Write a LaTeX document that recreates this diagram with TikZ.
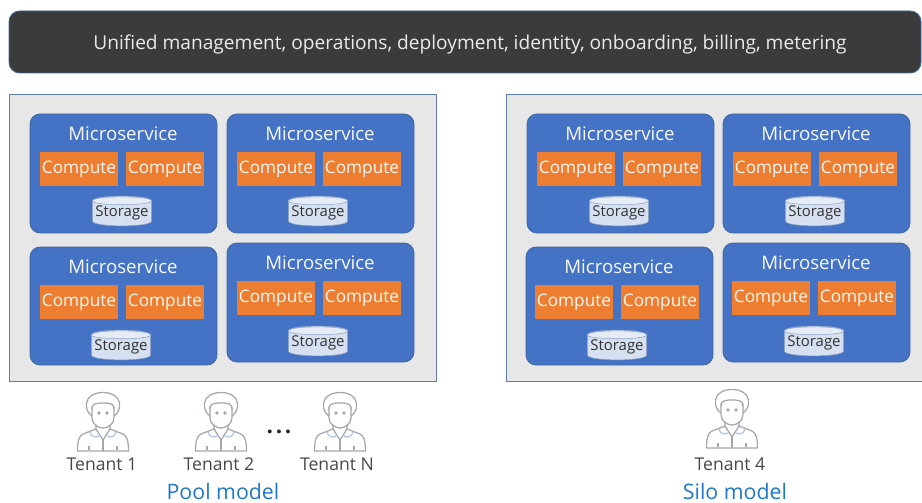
\documentclass[tikz,border=0pt]{standalone}
\usepackage{fontspec}
\setmainfont{Open Sans}
\usetikzlibrary{shapes.geometric}
\definecolor{msblue}{HTML}{4472C4}
\definecolor{msedge}{HTML}{41689F}
\definecolor{comporange}{HTML}{ED7D31}
\definecolor{panelgrey}{HTML}{E7E7E7}
\definecolor{bardark}{HTML}{3B3B3B}
\definecolor{stor}{HTML}{D6E0F0}
\definecolor{personline}{HTML}{A4A8AD}
\definecolor{collar}{HTML}{B4C7F0}
\definecolor{modelblue}{HTML}{1F78C8}
\tikzset{
 x=0.75pt,y=-0.75pt,
 bar/.style={draw=msedge,line width=0.7pt,fill=bardark,rounded corners=8pt},
 panel/.style={draw=msedge!85,line width=0.6pt,fill=panelgrey},
 msbox/.style={draw=msedge,line width=0.6pt,fill=msblue,rounded corners=7.5pt},
 mstext/.style={text=white!95!msblue,font=\fontsize{14}{16}\selectfont,inner sep=0pt},
 comptext/.style={fill=comporange,text=white!95!comporange,font=\fontsize{12.9}{15}\selectfont,minimum width=58.5pt,minimum height=25.5pt,inner sep=0pt},
 stortext/.style={font=\fontsize{11.2}{13}\selectfont,text=black!80,inner sep=0pt},
 tenanttext/.style={font=\fontsize{13.2}{15}\selectfont,text=black!72,inner sep=0pt},
 modeltext/.style={font=\fontsize{16}{18}\selectfont,text=modelblue,inner sep=0pt},
 person/.style={draw=personline,line width=0.95pt,fill=none,line cap=round,line join=round},
}
% #1 name, #2 x, #3 y top, #4 w, #5 h, #6 compute-left-offset, #7 compute-top, #8 storage cx, #9 storage top
\newcommand{\msv}[9]{%
 \path[msbox] (#2,#3) rectangle ++(#4,#5);
 \node[mstext] (#1t) at ({#2+#4/2-0.5},{#3+19.5}) {Microservice};
 \node[comptext] (#1a) at ({#2+#6+39},{#7+17}) {\raisebox{-0.6pt}{Compute}};
 \node[comptext] (#1b) at ({#2+#6+125},{#7+17}) {\raisebox{-0.6pt}{Compute}};
 \begin{scope}[shift={(#8,#9)}]
  \path[draw=msedge!60,line width=0.4pt,fill=stor] (-29.5,4) -- (-29.5,24) .. controls (-29.5,30.5) and (29.5,30.5) .. (29.5,24) -- (29.5,4) .. controls (29.5,-2.5) and (-29.5,-2.5) .. (-29.5,4) -- cycle;
  \path[draw=msedge!60,line width=0.4pt,fill=stor!60] (-29.5,4) .. controls (-29.5,9) and (29.5,9) .. (29.5,4) .. controls (29.5,-1.5) and (-29.5,-1.5) .. (-29.5,4) -- cycle;
 \end{scope}
 \node[stortext] (#1s) at ({#8},{#9+16}) {Storage};
}
% person icon centred on x=#1, top y=#2
\newcommand{\tenant}[2]{%
 \begin{scope}[shift={(#1,#2)}]
  \draw[person] (-11,25) .. controls (-16,22) and (-17,16) .. (-16.5,12) .. controls (-15,-2) and (15,-2) .. (16.5,12) .. controls (17,16) and (16,22) .. (11,25);
  \draw[person] (-11,18) .. controls (-11,13) and (-8,12) .. (0,12) .. controls (8,12) and (11,13) .. (11,18);
  \draw[person] (-11,16) -- (-11,27) .. controls (-11,33) and (-5,37) .. (0,37) .. controls (5,37) and (11,33) .. (11,27) -- (11,16);
  \fill[personline] (-4,22) circle (1.9) (4,22) circle (1.9);
  \draw[person] (-7,34) -- (-7,38) -- (-20,43) .. controls (-24,45) and (-25.5,50) .. (-25.5,60) -- (25.5,60) .. controls (25.5,50) and (24,45) .. (20,43) -- (7,38) -- (7,34);
  \draw[person] (-7,38) -- (0,49) -- (7,38);
  \draw[person] (0,49) -- (0,60);
  \draw[collar,line width=1pt,line cap=round] (-13,41) .. controls (-12,46) and (-7,47) .. (-4,45);
  \draw[collar,line width=1pt,line cap=round] (13,41) .. controls (12,46) and (7,47) .. (4,45);
  \draw[personline,line width=1pt] (-14,55) -- (-14,59) (14,55) -- (14,59);
 \end{scope}
}
\begin{document}
\begin{tikzpicture}
\useasboundingbox (0,0) rectangle (922,503);
\node[bar,minimum width=684pt,minimum height=46.5pt,inner sep=0pt] (top) at (465,42) {};
\node[text=white!92!black,font=\fontsize{14.35}{17}\selectfont,inner sep=0pt] (toptext) at (470,44) {Unified management, operations, deployment, identity, onboarding, billing, metering};
\path[panel] (9,94) rectangle (436,381);
\path[panel] (506,94) rectangle (923,381);
\msv{a}{30}{114}{187}{119}{10}{152}{122}{197}
\msv{b}{227}{114}{187}{119}{10}{152}{318}{197}
\msv{c}{30}{247}{187}{118}{10}{285}{121}{331}
\msv{d}{227}{243}{187}{119}{10}{281}{318}{327}
\msv{e}{527}{114}{187}{119}{10}{152}{619}{197}
\msv{f}{723}{114}{187}{119}{10}{152}{815}{197}
\msv{g}{526}{247}{187}{118}{9}{285}{617}{331}
\msv{h}{723}{243}{187}{119}{9}{281}{814}{327}
\tenant{103}{391}
\tenant{221}{391}
\tenant{340}{391}
\tenant{732}{388}
\node[font=\bfseries\fontsize{17}{19}\selectfont,text=black!85,inner sep=0pt] (dots) at (279,432) {.\hspace{2pt}.\hspace{2pt}.};
\node[tenanttext] (t1) at (102,464) {Tenant 1};
\node[tenanttext] (t2) at (219,464) {Tenant 2};
\node[tenanttext] (tn) at (337,464) {Tenant N};
\node[tenanttext] (t4) at (730,464) {Tenant 4};
\node[modeltext] (pool) at (223,491) {Pool model};
\node[modeltext] (silo) at (735,491) {Silo model};
\end{tikzpicture}
\end{document}
